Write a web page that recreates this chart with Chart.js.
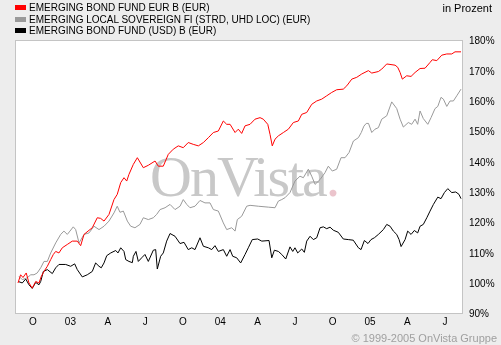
<!DOCTYPE html>
<html>
<head>
<meta charset="utf-8">
<script src="https://cdn.jsdelivr.net/npm/chart.js@4.4.1/dist/chart.umd.min.js"></script>
<style>
  body { margin: 0; background: #ededed; font-family: Arial, "Liberation Sans", sans-serif; }
  #wrap { position: relative; width: 501px; height: 345px; overflow: hidden; }
  #plotBg { position: absolute; background: #fff; }
  #mark { position: absolute; left: 150px; top: 148px; font: 58px/58px "Liberation Serif", "Times New Roman", serif;
          color: #c8c8c8; letter-spacing: -2px; white-space: nowrap; }
  #mark span { color: #ebc4cc; }
  canvas { position: absolute; left: 0; top: 0; }
  #legend { position: absolute; left: 15px; top: 2px; font-size: 10px; color: #000; }
  #legend div { height: 11.7px; line-height: 12px; white-space: nowrap; }
  #legend i { display: inline-block; width: 11px; height: 5px; margin-right: 3px; vertical-align: 1px; }
  #unit { position: absolute; right: 9px; top: 2px; font-size: 11px; line-height: 12px; color: #000; }
  #copy { position: absolute; right: 4px; top: 332px; font-size: 11px; line-height: 12px; color: #a0a0a0; }
</style>
</head>
<body>
<div id="wrap">
  <div id="plotBg"></div>
  <div id="mark">OnVista<span>.</span></div>
  <canvas id="perfChart" width="501" height="345"></canvas>
  <div id="legend"></div>
  <div id="unit">in Prozent</div>
  <div id="copy">© 1999-2005 OnVista Gruppe</div>
</div>
<script>
// x values are months counted from January 2002 (9 = Oct 2002, 12 = Jan 2003, ...)
const seriesNames = [
  'EMERGING BOND FUND EUR B (EUR)',
  'EMERGING LOCAL SOVEREIGN FI (STRD, UHD LOC) (EUR)',
  'EMERGING BOND FUND (USD) B (EUR)'
];
const seriesColors = ['#ff0000', '#999999', '#000000'];

const xTickMonths = [9, 12, 15, 18, 21, 24, 27, 30, 33, 36, 39, 42];
const xTickLabels = ['O', '03', 'A', 'J', 'O', '04', 'A', 'J', 'O', '05', 'A', 'J'];
const yTickValues = [90, 100, 110, 120, 130, 140, 150, 160, 170, 180];

const redMonths = [7.80, 8.01, 8.20, 8.46, 8.68, 8.94, 9.22, 9.48, 9.67, 9.88, 10.15, 10.42, 10.63, 10.82, 11.08, 11.35, 11.75, 12.15, 12.55, 12.82,
  13.09, 13.41, 13.75, 14.15, 14.42, 14.69, 15.09, 15.49, 15.75, 16.03, 16.29, 16.51, 16.69, 17.04, 17.36, 17.84, 18.24, 18.78, 19.04, 19.44,
  19.84, 20.24, 20.64, 21.04, 21.44, 21.84, 22.25, 22.65, 23.05, 23.45, 23.85, 24.25, 24.52, 24.79, 25.19, 25.45, 25.72, 25.99, 26.39, 26.79,
  27.19, 27.45, 27.81, 27.99, 28.17, 28.39, 28.66, 29.06, 29.46, 29.86, 30.26, 30.53, 30.93, 31.33, 31.73, 32.13, 32.53, 32.93, 33.33, 33.86,
  34.14, 34.54, 34.94, 35.34, 35.87, 36.14, 36.67, 36.94, 37.34, 38.01, 38.22, 38.41, 38.59, 38.94, 39.29, 39.61, 40.01, 40.41, 40.81, 40.99,
  41.35, 41.75, 42.15, 42.55, 42.81, 43.29];
const redValues = [99.9, 102.6, 101.7, 103.2, 99.9, 98.2, 100.4, 99.9, 102.1, 103.7, 105.4, 107.6, 109.3, 110.3, 109.8, 111.5, 112.6, 113.7, 113.7, 112.2,
  115.9, 117.0, 118.1, 121.4, 121.2, 120.3, 122.5, 127.4, 129.1, 133.0, 134.6, 133.5, 135.7, 139.0, 141.2, 137.9, 138.7, 140.1, 138.4, 138.4,
  142.3, 144.0, 145.1, 144.5, 146.2, 145.6, 145.1, 146.2, 147.8, 149.5, 150.0, 153.3, 152.2, 152.2, 149.5, 150.6, 149.2, 151.7, 152.2, 153.9,
  154.4, 153.9, 152.2, 148.9, 145.1, 147.3, 148.4, 149.5, 150.6, 152.8, 153.3, 155.5, 156.1, 158.8, 159.9, 160.5, 161.6, 162.7, 163.6, 163.8,
  164.9, 167.1, 167.7, 168.8, 169.9, 169.1, 169.6, 170.4, 172.1, 171.7, 171.0, 169.3, 167.1, 168.2, 168.0, 169.3, 170.6, 170.7, 172.6, 173.5,
  173.2, 175.0, 175.4, 175.4, 176.1, 176.1];

const greyMonths = [7.88, 8.14, 8.54, 8.82, 9.08, 9.34, 9.62, 9.88, 10.15, 10.42, 10.82, 11.22, 11.48, 11.75, 11.96, 12.23, 12.42, 12.69, 13.09, 13.49,
  13.89, 14.29, 14.69, 15.09, 15.49, 15.75, 15.97, 16.24, 16.56, 16.83, 17.17, 17.57, 17.84, 18.24, 18.64, 18.91, 19.18, 19.58, 19.98, 20.38,
  20.78, 21.04, 21.32, 21.58, 21.98, 22.38, 22.78, 23.18, 23.45, 23.85, 24.25, 24.52, 24.92, 25.19, 25.37, 25.72, 26.12, 26.39, 27.05, 27.85,
  28.39, 28.66, 28.93, 29.19, 29.59, 29.99, 30.39, 30.66, 31.06, 31.33, 31.60, 32.00, 32.40, 32.66, 32.98, 33.33, 33.68, 34.00, 34.32, 34.67,
  35.07, 35.30, 35.51, 35.70, 35.88, 36.14, 36.40, 36.67, 36.94, 37.34, 37.74, 38.14, 38.41, 38.67, 39.07, 39.34, 39.61, 39.82, 40.01, 40.27,
  40.63, 40.89, 41.21, 41.43, 41.69, 41.88, 42.15, 42.41, 42.68, 42.95, 43.29];
const greyValues = [102.1, 101.0, 101.6, 102.6, 102.6, 103.2, 104.9, 107.0, 107.0, 109.8, 113.1, 115.9, 117.0, 115.9, 117.0, 118.4, 117.5, 113.1, 115.9, 116.4,
  118.6, 117.5, 118.6, 120.3, 123.0, 125.2, 123.2, 123.6, 120.3, 118.6, 118.1, 119.2, 121.4, 120.8, 121.4, 122.5, 124.1, 124.7, 125.8, 124.1,
  125.2, 127.4, 125.8, 124.7, 125.2, 127.1, 126.3, 126.3, 124.1, 123.6, 119.7, 117.5, 118.1, 117.0, 120.8, 121.9, 125.2, 125.5, 125.2, 124.9,
  124.7, 126.9, 127.4, 128.0, 129.7, 133.5, 135.1, 134.6, 137.4, 135.1, 132.4, 134.0, 136.3, 138.4, 136.8, 137.4, 141.2, 141.2, 142.9, 146.7,
  147.8, 149.5, 151.6, 152.5, 152.5, 149.5, 150.6, 151.1, 153.9, 155.0, 159.6, 157.4, 153.9, 151.3, 152.8, 152.2, 153.9, 152.2, 156.6, 154.1,
  152.2, 154.4, 157.4, 158.1, 161.1, 160.5, 158.1, 159.9, 159.9, 161.6, 163.8];

const blackMonths = [7.82, 8.14, 8.42, 8.68, 8.94, 9.22, 9.48, 9.62, 9.83, 10.15, 10.55, 10.82, 11.08, 11.62, 12.02, 12.34, 12.55, 12.95, 13.35, 13.75,
  14.02, 14.29, 14.47, 14.69, 14.91, 15.23, 15.63, 15.81, 16.03, 16.29, 16.43, 16.69, 16.96, 17.04, 17.25, 17.44, 17.71, 17.97, 18.24, 18.64,
  18.83, 18.96, 19.23, 19.44, 19.71, 19.98, 20.38, 20.78, 21.10, 21.44, 21.72, 21.98, 22.38, 22.65, 23.05, 23.32, 23.58, 23.85, 24.25, 24.52,
  24.79, 25.00, 25.32, 25.64, 25.99, 26.25, 26.57, 27.00, 27.33, 27.91, 28.13, 28.34, 28.66, 28.93, 29.25, 29.59, 29.81, 29.99, 30.21, 30.53,
  30.74, 30.93, 31.20, 31.46, 31.73, 32.00, 32.26, 32.53, 32.80, 33.06, 33.46, 33.86, 34.26, 34.66, 35.07, 35.28, 35.55, 35.84, 36.08, 36.35,
  36.67, 37.07, 37.34, 37.61, 37.87, 38.14, 38.33, 38.49, 38.81, 39.02, 39.29, 39.55, 39.82, 40.01, 40.27, 40.55, 40.81, 41.08, 41.43, 41.69,
  41.96, 42.23, 42.55, 42.87, 43.13, 43.29];
const blackValues = [100.4, 99.9, 101.2, 99.3, 98.1, 100.1, 99.3, 100.4, 103.7, 104.3, 103.0, 104.9, 106.0, 106.0, 105.4, 106.2, 104.3, 101.9, 102.6, 103.7,
  106.5, 105.4, 104.9, 106.5, 108.9, 109.8, 110.6, 109.8, 111.5, 110.3, 107.6, 107.0, 106.6, 108.7, 110.3, 107.0, 108.2, 109.3, 107.0, 110.7,
  110.9, 104.5, 108.7, 109.8, 113.7, 116.2, 115.3, 112.9, 113.3, 110.9, 111.5, 110.9, 114.8, 112.0, 111.5, 110.9, 112.2, 110.3, 110.9, 108.7,
  110.9, 108.7, 108.2, 106.5, 109.3, 111.5, 114.2, 114.4, 113.7, 113.9, 108.2, 110.7, 110.3, 109.3, 107.8, 111.8, 110.3, 111.5, 109.8, 111.1,
  110.0, 113.7, 115.3, 114.2, 114.8, 118.1, 118.4, 117.8, 118.3, 117.3, 116.6, 114.4, 114.2, 114.0, 111.5, 110.9, 113.9, 112.9, 114.2, 114.8,
  115.9, 117.5, 119.2, 118.6, 117.0, 115.9, 114.2, 111.9, 114.2, 117.0, 115.9, 117.2, 116.4, 118.6, 119.2, 121.4, 123.6, 125.8, 128.2, 127.7,
  129.7, 131.0, 129.7, 129.9, 129.1, 127.7];

function toPoints(months, values) {
  return months.map((m, i) => ({ x: m, y: values[i] }));
}

// legend rows above the plot
const legendBox = document.getElementById('legend');
seriesNames.forEach((name, i) => {
  const row = document.createElement('div');
  const swatch = document.createElement('i');
  swatch.style.background = seriesColors[i];
  row.appendChild(swatch);
  row.appendChild(document.createTextNode(name));
  legendBox.appendChild(row);
});

// white plot background + grey frame, sized from the chart area
const plotFrame = {
  id: 'plotFrame',
  afterLayout(chart) {
    const a = chart.chartArea;
    const bg = document.getElementById('plotBg');
    bg.style.left = a.left + 'px';
    bg.style.top = a.top + 'px';
    bg.style.width = (a.right - a.left) + 'px';
    bg.style.height = (a.bottom - a.top) + 'px';
  },
  beforeDatasetsDraw(chart) {
    const { ctx, chartArea: a } = chart;
    ctx.save();
    ctx.strokeStyle = '#c4c4c4';
    ctx.lineWidth = 1;
    ctx.strokeRect(a.left + 0.5, a.top + 0.5, a.right - a.left, a.bottom - a.top);
    ctx.restore();
  }
};

const tickFont = { family: 'Arial, "Liberation Sans", sans-serif', size: 10 };

const ctx = document.getElementById('perfChart').getContext('2d');
const perfChart = new Chart(ctx, {
  type: 'line',
  data: {
    datasets: [
      { label: seriesNames[0], data: toPoints(redMonths, redValues), borderColor: seriesColors[0] },
      { label: seriesNames[1], data: toPoints(greyMonths, greyValues), borderColor: seriesColors[1] },
      { label: seriesNames[2], data: toPoints(blackMonths, blackValues), borderColor: seriesColors[2] }
    ]
  },
  options: {
    responsive: false,
    animation: false,
    devicePixelRatio: 1,
    layout: { padding: { left: 15, top: 40, right: 0, bottom: 0 } },
    elements: {
      line: { borderWidth: 1, tension: 0, fill: false },
      point: { radius: 0, hoverRadius: 0 }
    },
    scales: {
      x: {
        type: 'linear',
        min: 7.56,
        max: 43.37,
        grid: { display: false, drawTicks: false },
        border: { display: false },
        ticks: {
          font: tickFont,
          color: '#000',
          padding: 3,
          autoSkip: false,
          maxRotation: 0,
          callback: (v, i) => xTickLabels[i]
        },
        afterBuildTicks: s => { s.ticks = xTickMonths.map(v => ({ value: v })); },
        afterFit: s => { s.height = 32; }
      },
      y: {
        position: 'right',
        min: 90,
        max: 180,
        grid: { display: false, drawTicks: false },
        border: { display: false },
        ticks: {
          font: tickFont,
          color: '#000',
          padding: 7,
          labelOffset: 1.5,
          callback: v => v + '%'
        },
        afterBuildTicks: s => { s.ticks = yTickValues.map(v => ({ value: v })); },
        afterFit: s => { s.width = 39; }
      }
    },
    plugins: {
      legend: { display: false },
      tooltip: { enabled: false }
    }
  },
  plugins: [plotFrame]
});
</script>
</body>
</html>
